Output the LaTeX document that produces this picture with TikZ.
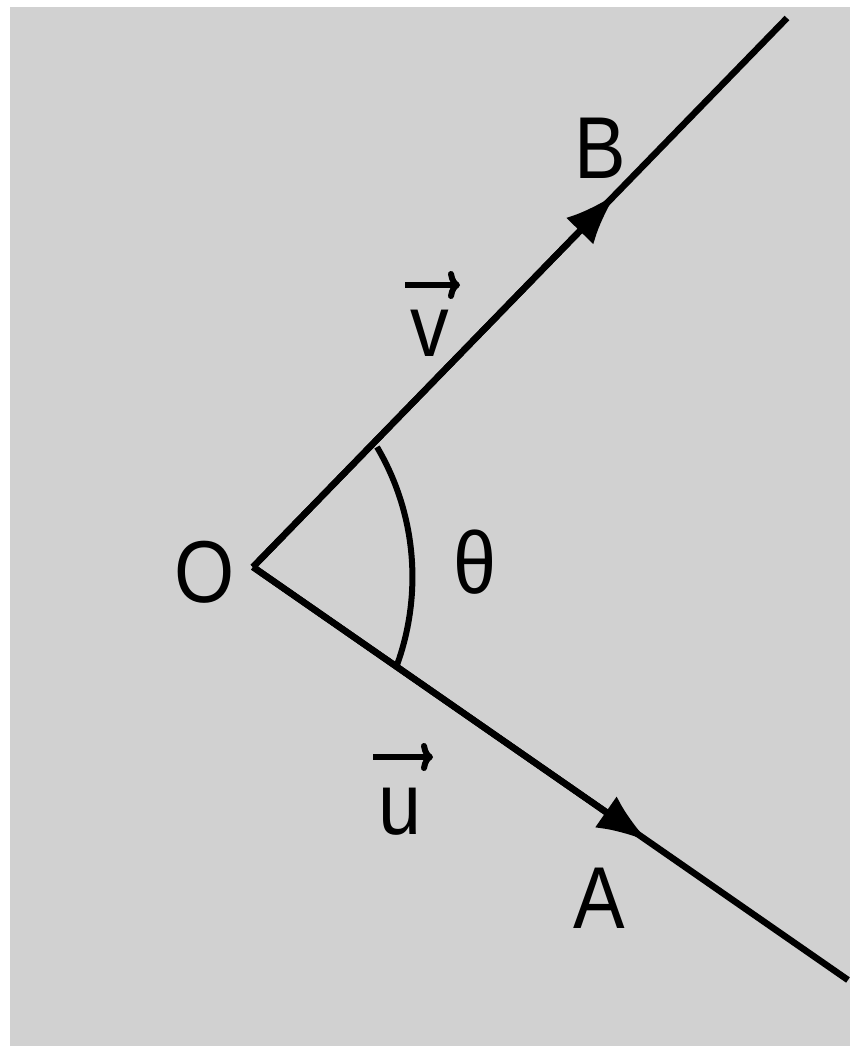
\documentclass[tikz,border=0pt]{standalone}
\usepackage{fontspec}
\setmainfont[FakeStretch=0.88]{Liberation Sans}
\usetikzlibrary{arrows.meta,calc}
\definecolor{bg}{RGB}{209,209,209}
\begin{document}
\begin{tikzpicture}[x=0.1mm,y=-0.1mm,
  lbl/.style={inner sep=0pt, font=\fontsize{25}{29}\selectfont},
  ray/.style={line width=0.65mm},
  arcline/.style={line width=0.6mm},
  tipline/.style={line width=0.65mm, -{Latex[length=5.2mm,width=3.8mm]}},
  vecarrow/.style={line width=0.6mm, -{To[length=1.2mm,width=2.8mm]}}]
\useasboundingbox (0,0) rectangle (850,1046);
\fill[white] (0,0) rectangle (850,1046);
\fill[bg] (10,7) rectangle (850,1046);
% rays
\coordinate (O) at (253,567);
\coordinate (Bend) at (787,18);
\coordinate (Aend) at (848,980);
\draw[ray] (O) -- (Bend);
\draw[ray] (O) -- (Aend);
\coordinate (Btip) at ($(O)!0.68!(Bend)$);
\coordinate (Atip) at ($(O)!0.665!(Aend)$);
\draw[tipline] (O) -- (Btip);
\draw[tipline] (O) -- (Atip);
% angle arc
\coordinate (P) at (377,447);
\coordinate (Q) at (397,665);
\coordinate (C1) at (416,513);
\coordinate (C2) at (423,593);
\draw[arcline] (P) .. controls (C1) and (C2) .. (Q);
% labels
\node[lbl] (lO) at (205,572) {O};
\node[lbl] (lB) at (600,148) {B};
\node[lbl] (lA) at (599,898) {A};
\node[lbl] (lth) at (475,562) {θ};
\node[lbl] (lu) at (400,812) {u};
\node[lbl] (lv) at (430,333) {v};
% vector arrows
\coordinate (u1) at (373,757);
\coordinate (u2) at (433,757);
\coordinate (v1) at (405,285);
\coordinate (v2) at (460,285);
\draw[vecarrow] (u1) -- (u2);
\draw[vecarrow] (v1) -- (v2);
\end{tikzpicture}
\end{document}
